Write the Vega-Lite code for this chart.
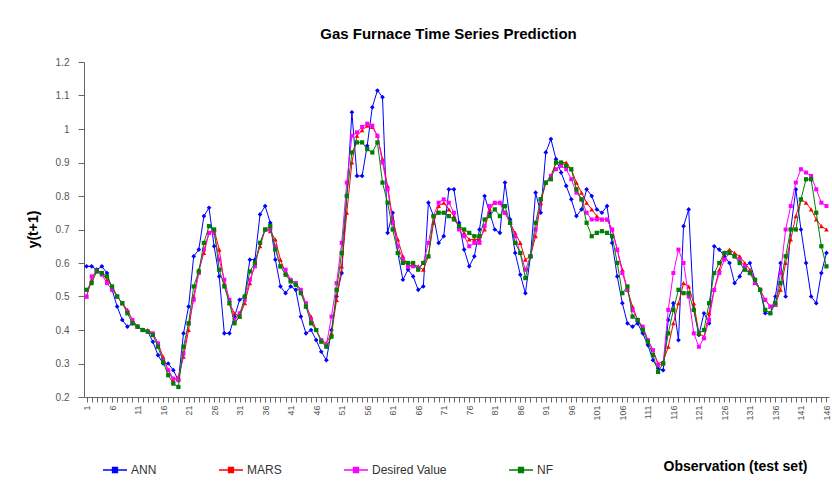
{
  "$schema": "https://vega.github.io/schema/vega-lite/v6.json",
  "width": 745,
  "height": 335,
  "autosize": {"type": "none"},
  "padding": {"left": 84, "top": 62, "right": 3, "bottom": 107},
  "background": "white",
  "config": {
    "font": "Liberation Sans",
    "view": {"stroke": null},
    "axis": {"grid": false, "domainColor": "#666", "tickColor": "#666", "labelColor": "#555", "labelFont": "Liberation Sans", "titleFont": "Liberation Sans"}
  },
  "title": {"text": "Gas Furnace Time Series Prediction", "fontSize": 15, "fontWeight": "bold", "font": "Liberation Sans", "color": "#000", "anchor": "middle", "frame": "group", "dx": -8, "offset": 15},
  "data": {"values": [
    {"obs":1,"ANN":0.59,"MARS":0.50,"Desired Value":0.50,"NF":0.52},
    {"obs":2,"ANN":0.59,"MARS":0.55,"Desired Value":0.56,"NF":0.54},
    {"obs":3,"ANN":0.58,"MARS":0.58,"Desired Value":0.575,"NF":0.575},
    {"obs":4,"ANN":0.59,"MARS":0.57,"Desired Value":0.565,"NF":0.57},
    {"obs":5,"ANN":0.57,"MARS":0.55,"Desired Value":0.54,"NF":0.56},
    {"obs":6,"ANN":0.52,"MARS":0.53,"Desired Value":0.52,"NF":0.53},
    {"obs":7,"ANN":0.47,"MARS":0.50,"Desired Value":0.50,"NF":0.50},
    {"obs":8,"ANN":0.43,"MARS":0.48,"Desired Value":0.48,"NF":0.48},
    {"obs":9,"ANN":0.41,"MARS":0.46,"Desired Value":0.455,"NF":0.45},
    {"obs":10,"ANN":0.42,"MARS":0.43,"Desired Value":0.43,"NF":0.42},
    {"obs":11,"ANN":0.41,"MARS":0.41,"Desired Value":0.41,"NF":0.41},
    {"obs":12,"ANN":0.40,"MARS":0.40,"Desired Value":0.40,"NF":0.40},
    {"obs":13,"ANN":0.395,"MARS":0.40,"Desired Value":0.395,"NF":0.395},
    {"obs":14,"ANN":0.365,"MARS":0.39,"Desired Value":0.39,"NF":0.385},
    {"obs":15,"ANN":0.325,"MARS":0.36,"Desired Value":0.36,"NF":0.35},
    {"obs":16,"ANN":0.30,"MARS":0.32,"Desired Value":0.31,"NF":0.305},
    {"obs":17,"ANN":0.30,"MARS":0.28,"Desired Value":0.28,"NF":0.265},
    {"obs":18,"ANN":0.28,"MARS":0.25,"Desired Value":0.255,"NF":0.24},
    {"obs":19,"ANN":0.25,"MARS":0.26,"Desired Value":0.25,"NF":0.23},
    {"obs":20,"ANN":0.39,"MARS":0.32,"Desired Value":0.33,"NF":0.35},
    {"obs":21,"ANN":0.47,"MARS":0.40,"Desired Value":0.42,"NF":0.42},
    {"obs":22,"ANN":0.62,"MARS":0.50,"Desired Value":0.49,"NF":0.53},
    {"obs":23,"ANN":0.64,"MARS":0.58,"Desired Value":0.57,"NF":0.575},
    {"obs":24,"ANN":0.74,"MARS":0.63,"Desired Value":0.64,"NF":0.66},
    {"obs":25,"ANN":0.765,"MARS":0.69,"Desired Value":0.69,"NF":0.71},
    {"obs":26,"ANN":0.65,"MARS":0.70,"Desired Value":0.69,"NF":0.70},
    {"obs":27,"ANN":0.56,"MARS":0.64,"Desired Value":0.61,"NF":0.58},
    {"obs":28,"ANN":0.39,"MARS":0.54,"Desired Value":0.55,"NF":0.53},
    {"obs":29,"ANN":0.39,"MARS":0.48,"Desired Value":0.49,"NF":0.48},
    {"obs":30,"ANN":0.44,"MARS":0.45,"Desired Value":0.43,"NF":0.42},
    {"obs":31,"ANN":0.49,"MARS":0.44,"Desired Value":0.45,"NF":0.44},
    {"obs":32,"ANN":0.50,"MARS":0.48,"Desired Value":0.49,"NF":0.50},
    {"obs":33,"ANN":0.61,"MARS":0.54,"Desired Value":0.55,"NF":0.575},
    {"obs":34,"ANN":0.61,"MARS":0.60,"Desired Value":0.59,"NF":0.60},
    {"obs":35,"ANN":0.745,"MARS":0.65,"Desired Value":0.66,"NF":0.66},
    {"obs":36,"ANN":0.77,"MARS":0.70,"Desired Value":0.70,"NF":0.70},
    {"obs":37,"ANN":0.72,"MARS":0.695,"Desired Value":0.70,"NF":0.71},
    {"obs":38,"ANN":0.61,"MARS":0.67,"Desired Value":0.65,"NF":0.64},
    {"obs":39,"ANN":0.53,"MARS":0.61,"Desired Value":0.59,"NF":0.59},
    {"obs":40,"ANN":0.51,"MARS":0.57,"Desired Value":0.58,"NF":0.565},
    {"obs":41,"ANN":0.53,"MARS":0.55,"Desired Value":0.55,"NF":0.545},
    {"obs":42,"ANN":0.52,"MARS":0.54,"Desired Value":0.54,"NF":0.535},
    {"obs":43,"ANN":0.44,"MARS":0.52,"Desired Value":0.52,"NF":0.51},
    {"obs":44,"ANN":0.39,"MARS":0.47,"Desired Value":0.48,"NF":0.47},
    {"obs":45,"ANN":0.40,"MARS":0.44,"Desired Value":0.43,"NF":0.42},
    {"obs":46,"ANN":0.37,"MARS":0.40,"Desired Value":0.40,"NF":0.40},
    {"obs":47,"ANN":0.335,"MARS":0.37,"Desired Value":0.37,"NF":0.365},
    {"obs":48,"ANN":0.31,"MARS":0.36,"Desired Value":0.355,"NF":0.35},
    {"obs":49,"ANN":0.40,"MARS":0.39,"Desired Value":0.44,"NF":0.38},
    {"obs":50,"ANN":0.50,"MARS":0.49,"Desired Value":0.54,"NF":0.52},
    {"obs":51,"ANN":0.57,"MARS":0.59,"Desired Value":0.66,"NF":0.63},
    {"obs":52,"ANN":0.80,"MARS":0.75,"Desired Value":0.84,"NF":0.80},
    {"obs":53,"ANN":1.05,"MARS":0.90,"Desired Value":0.98,"NF":0.93},
    {"obs":54,"ANN":0.86,"MARS":0.98,"Desired Value":0.99,"NF":0.96},
    {"obs":55,"ANN":0.86,"MARS":0.996,"Desired Value":1.006,"NF":0.96},
    {"obs":56,"ANN":0.95,"MARS":1.01,"Desired Value":1.016,"NF":0.94},
    {"obs":57,"ANN":1.065,"MARS":1.006,"Desired Value":1.01,"NF":0.93},
    {"obs":58,"ANN":1.115,"MARS":0.98,"Desired Value":0.98,"NF":0.96},
    {"obs":59,"ANN":1.095,"MARS":0.91,"Desired Value":0.90,"NF":0.84},
    {"obs":60,"ANN":0.69,"MARS":0.83,"Desired Value":0.82,"NF":0.78},
    {"obs":61,"ANN":0.75,"MARS":0.73,"Desired Value":0.72,"NF":0.70},
    {"obs":62,"ANN":0.63,"MARS":0.67,"Desired Value":0.65,"NF":0.63},
    {"obs":63,"ANN":0.55,"MARS":0.62,"Desired Value":0.61,"NF":0.60},
    {"obs":64,"ANN":0.58,"MARS":0.59,"Desired Value":0.59,"NF":0.60},
    {"obs":65,"ANN":0.56,"MARS":0.595,"Desired Value":0.59,"NF":0.60},
    {"obs":66,"ANN":0.52,"MARS":0.59,"Desired Value":0.585,"NF":0.58},
    {"obs":67,"ANN":0.53,"MARS":0.58,"Desired Value":0.60,"NF":0.60},
    {"obs":68,"ANN":0.78,"MARS":0.62,"Desired Value":0.66,"NF":0.62},
    {"obs":69,"ANN":0.74,"MARS":0.72,"Desired Value":0.74,"NF":0.74},
    {"obs":70,"ANN":0.66,"MARS":0.77,"Desired Value":0.78,"NF":0.75},
    {"obs":71,"ANN":0.68,"MARS":0.78,"Desired Value":0.79,"NF":0.75},
    {"obs":72,"ANN":0.82,"MARS":0.76,"Desired Value":0.78,"NF":0.74},
    {"obs":73,"ANN":0.82,"MARS":0.74,"Desired Value":0.75,"NF":0.73},
    {"obs":74,"ANN":0.72,"MARS":0.71,"Desired Value":0.70,"NF":0.71},
    {"obs":75,"ANN":0.64,"MARS":0.69,"Desired Value":0.68,"NF":0.70},
    {"obs":76,"ANN":0.59,"MARS":0.67,"Desired Value":0.65,"NF":0.69},
    {"obs":77,"ANN":0.62,"MARS":0.67,"Desired Value":0.66,"NF":0.68},
    {"obs":78,"ANN":0.70,"MARS":0.67,"Desired Value":0.66,"NF":0.68},
    {"obs":79,"ANN":0.80,"MARS":0.70,"Desired Value":0.71,"NF":0.73},
    {"obs":80,"ANN":0.75,"MARS":0.76,"Desired Value":0.77,"NF":0.74},
    {"obs":81,"ANN":0.70,"MARS":0.78,"Desired Value":0.78,"NF":0.76},
    {"obs":82,"ANN":0.69,"MARS":0.78,"Desired Value":0.78,"NF":0.74},
    {"obs":83,"ANN":0.84,"MARS":0.75,"Desired Value":0.75,"NF":0.77},
    {"obs":84,"ANN":0.73,"MARS":0.72,"Desired Value":0.72,"NF":0.72},
    {"obs":85,"ANN":0.63,"MARS":0.69,"Desired Value":0.68,"NF":0.66},
    {"obs":86,"ANN":0.565,"MARS":0.66,"Desired Value":0.63,"NF":0.63},
    {"obs":87,"ANN":0.51,"MARS":0.61,"Desired Value":0.58,"NF":0.555},
    {"obs":88,"ANN":0.62,"MARS":0.62,"Desired Value":0.62,"NF":0.62},
    {"obs":89,"ANN":0.81,"MARS":0.68,"Desired Value":0.70,"NF":0.72},
    {"obs":90,"ANN":0.75,"MARS":0.78,"Desired Value":0.79,"NF":0.79},
    {"obs":91,"ANN":0.93,"MARS":0.84,"Desired Value":0.84,"NF":0.84},
    {"obs":92,"ANN":0.97,"MARS":0.86,"Desired Value":0.86,"NF":0.85},
    {"obs":93,"ANN":0.91,"MARS":0.90,"Desired Value":0.88,"NF":0.90},
    {"obs":94,"ANN":0.87,"MARS":0.90,"Desired Value":0.89,"NF":0.90},
    {"obs":95,"ANN":0.83,"MARS":0.90,"Desired Value":0.88,"NF":0.89},
    {"obs":96,"ANN":0.79,"MARS":0.88,"Desired Value":0.85,"NF":0.88},
    {"obs":97,"ANN":0.74,"MARS":0.84,"Desired Value":0.81,"NF":0.82},
    {"obs":98,"ANN":0.76,"MARS":0.81,"Desired Value":0.79,"NF":0.79},
    {"obs":99,"ANN":0.82,"MARS":0.78,"Desired Value":0.75,"NF":0.72},
    {"obs":100,"ANN":0.80,"MARS":0.76,"Desired Value":0.73,"NF":0.68},
    {"obs":101,"ANN":0.76,"MARS":0.74,"Desired Value":0.73,"NF":0.69},
    {"obs":102,"ANN":0.75,"MARS":0.73,"Desired Value":0.73,"NF":0.695},
    {"obs":103,"ANN":0.77,"MARS":0.73,"Desired Value":0.73,"NF":0.69},
    {"obs":104,"ANN":0.66,"MARS":0.70,"Desired Value":0.70,"NF":0.68},
    {"obs":105,"ANN":0.56,"MARS":0.64,"Desired Value":0.64,"NF":0.60},
    {"obs":106,"ANN":0.48,"MARS":0.58,"Desired Value":0.57,"NF":0.51},
    {"obs":107,"ANN":0.42,"MARS":0.52,"Desired Value":0.52,"NF":0.53},
    {"obs":108,"ANN":0.41,"MARS":0.47,"Desired Value":0.46,"NF":0.44},
    {"obs":109,"ANN":0.42,"MARS":0.43,"Desired Value":0.43,"NF":0.43},
    {"obs":110,"ANN":0.39,"MARS":0.41,"Desired Value":0.41,"NF":0.40},
    {"obs":111,"ANN":0.355,"MARS":0.37,"Desired Value":0.37,"NF":0.365},
    {"obs":112,"ANN":0.31,"MARS":0.34,"Desired Value":0.34,"NF":0.325},
    {"obs":113,"ANN":0.285,"MARS":0.30,"Desired Value":0.295,"NF":0.275},
    {"obs":114,"ANN":0.28,"MARS":0.305,"Desired Value":0.30,"NF":0.30},
    {"obs":115,"ANN":0.43,"MARS":0.35,"Desired Value":0.46,"NF":0.39},
    {"obs":116,"ANN":0.48,"MARS":0.42,"Desired Value":0.57,"NF":0.46},
    {"obs":117,"ANN":0.37,"MARS":0.48,"Desired Value":0.64,"NF":0.52},
    {"obs":118,"ANN":0.71,"MARS":0.54,"Desired Value":0.60,"NF":0.51},
    {"obs":119,"ANN":0.76,"MARS":0.53,"Desired Value":0.50,"NF":0.51},
    {"obs":120,"ANN":0.46,"MARS":0.48,"Desired Value":0.39,"NF":0.46},
    {"obs":121,"ANN":0.385,"MARS":0.39,"Desired Value":0.35,"NF":0.39},
    {"obs":122,"ANN":0.45,"MARS":0.38,"Desired Value":0.375,"NF":0.40},
    {"obs":123,"ANN":0.42,"MARS":0.45,"Desired Value":0.43,"NF":0.48},
    {"obs":124,"ANN":0.65,"MARS":0.52,"Desired Value":0.52,"NF":0.57},
    {"obs":125,"ANN":0.64,"MARS":0.58,"Desired Value":0.57,"NF":0.60},
    {"obs":126,"ANN":0.62,"MARS":0.63,"Desired Value":0.61,"NF":0.63},
    {"obs":127,"ANN":0.60,"MARS":0.64,"Desired Value":0.63,"NF":0.63},
    {"obs":128,"ANN":0.54,"MARS":0.63,"Desired Value":0.62,"NF":0.62},
    {"obs":129,"ANN":0.56,"MARS":0.62,"Desired Value":0.61,"NF":0.60},
    {"obs":130,"ANN":0.59,"MARS":0.60,"Desired Value":0.59,"NF":0.58},
    {"obs":131,"ANN":0.60,"MARS":0.58,"Desired Value":0.57,"NF":0.57},
    {"obs":132,"ANN":0.55,"MARS":0.55,"Desired Value":0.54,"NF":0.55},
    {"obs":133,"ANN":0.52,"MARS":0.52,"Desired Value":0.52,"NF":0.52},
    {"obs":134,"ANN":0.45,"MARS":0.49,"Desired Value":0.49,"NF":0.46},
    {"obs":135,"ANN":0.45,"MARS":0.47,"Desired Value":0.47,"NF":0.45},
    {"obs":136,"ANN":0.50,"MARS":0.475,"Desired Value":0.475,"NF":0.48},
    {"obs":137,"ANN":0.60,"MARS":0.52,"Desired Value":0.57,"NF":0.54},
    {"obs":138,"ANN":0.50,"MARS":0.60,"Desired Value":0.70,"NF":0.62},
    {"obs":139,"ANN":0.70,"MARS":0.67,"Desired Value":0.77,"NF":0.70},
    {"obs":140,"ANN":0.82,"MARS":0.74,"Desired Value":0.84,"NF":0.70},
    {"obs":141,"ANN":0.70,"MARS":0.79,"Desired Value":0.88,"NF":0.79},
    {"obs":142,"ANN":0.60,"MARS":0.78,"Desired Value":0.87,"NF":0.85},
    {"obs":143,"ANN":0.50,"MARS":0.76,"Desired Value":0.86,"NF":0.85},
    {"obs":144,"ANN":0.48,"MARS":0.73,"Desired Value":0.82,"NF":0.75},
    {"obs":145,"ANN":0.57,"MARS":0.71,"Desired Value":0.78,"NF":0.65},
    {"obs":146,"ANN":0.63,"MARS":0.70,"Desired Value":0.77,"NF":0.59}
  ]},
  "transform": [{"fold": ["ANN", "MARS", "Desired Value", "NF"], "as": ["series", "value"]}],
  "encoding": {
    "x": {"field": "obs", "type": "quantitative", "scale": {"domain": [0.5, 146.5], "nice": false, "zero": false},
      "axis": {"title": "Observation (test set)", "titleFontSize": 14, "titleFontWeight": "bold", "titleColor": "#000", "titleX": 651, "titleY": 69, "titleAlign": "center", "titleBaseline": "middle",
        "values": [1,2,3,4,5,6,7,8,9,10,11,12,13,14,15,16,17,18,19,20,21,22,23,24,25,26,27,28,29,30,31,32,33,34,35,36,37,38,39,40,41,42,43,44,45,46,47,48,49,50,51,52,53,54,55,56,57,58,59,60,61,62,63,64,65,66,67,68,69,70,71,72,73,74,75,76,77,78,79,80,81,82,83,84,85,86,87,88,89,90,91,92,93,94,95,96,97,98,99,100,101,102,103,104,105,106,107,108,109,110,111,112,113,114,115,116,117,118,119,120,121,122,123,124,125,126,127,128,129,130,131,132,133,134,135,136,137,138,139,140,141,142,143,144,145,146],
        "labelExpr": "(datum.value - 1) % 5 == 0 ? datum.label : ''", "labelAngle": -90, "labelFontSize": 9, "labelOverlap": false, "labelPadding": 3, "tickSize": 5, "labelFlush": false}},
    "y": {"field": "value", "type": "quantitative", "scale": {"domain": [0.2, 1.2], "nice": false, "zero": false},
      "axis": {"title": "y(t+1)", "titleFontSize": 14, "titleFontWeight": "bold", "titleColor": "#000", "titleX": -51, "titleY": 167, "titleAlign": "center", "titleBaseline": "middle", "titleAngle": -90,
        "values": [0.2,0.3,0.4,0.5,0.6,0.7,0.8,0.9,1.0,1.1,1.2], "format": ".1~f", "labelFontSize": 10, "tickSize": 6, "labelPadding": 9, "labelFlush": false}},
    "color": {"field": "series", "type": "nominal",
      "scale": {"domain": ["ANN", "MARS", "Desired Value", "NF"], "range": ["#0000FF", "#FF0000", "#FF00FF", "#008000"]},
      "legend": {"title": null, "orient": "none", "legendX": 18, "legendY": 395, "direction": "horizontal", "columnPadding": 59, "labelFontSize": 12, "labelColor": "#333", "labelFont": "Liberation Sans", "labelOffset": 3,
        "symbolType": "M-1,0H1M-0.2,-0.2H0.2V0.2H-0.2Z", "symbolSize": 576, "symbolStrokeWidth": 1.5,
        "encode": {"symbols": {"update": {"fill": {"scale": "color", "field": "value"}}}}}}
  },
  "layer": [
    {"transform": [{"filter": "datum.series === 'ANN'"}], "mark": {"type": "line", "strokeWidth": 1, "point": {"shape": "diamond", "size": 22, "filled": true}}},
    {"transform": [{"filter": "datum.series === 'MARS'"}], "mark": {"type": "line", "strokeWidth": 1, "point": {"shape": "triangle-up", "size": 22, "filled": true}}},
    {"transform": [{"filter": "datum.series === 'Desired Value'"}], "mark": {"type": "line", "strokeWidth": 1, "point": {"shape": "square", "size": 16, "filled": true}}},
    {"transform": [{"filter": "datum.series === 'NF'"}], "mark": {"type": "line", "strokeWidth": 1, "point": {"shape": "square", "size": 18, "filled": true}}}
  ]
}
